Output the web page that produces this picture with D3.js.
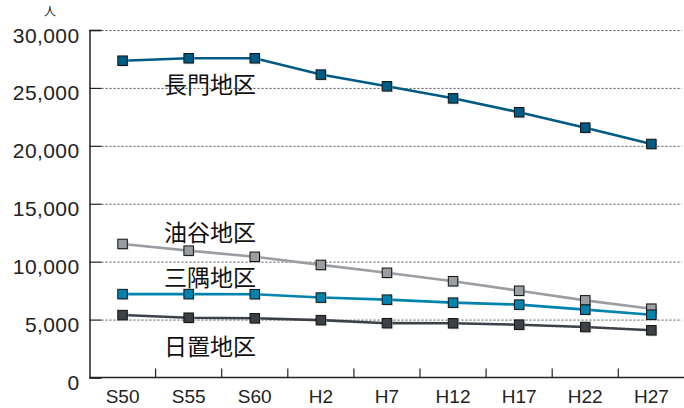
<!DOCTYPE html>
<html><head><meta charset="utf-8">
<script src="https://cdn.jsdelivr.net/npm/d3@7"></script>
<style>body{margin:0;background:#fff}svg{display:block}</style>
</head><body>
<svg id="c" width="684" height="408"></svg>
<script>
const categories = ["S50","S55","S60","H2","H7","H12","H17","H22","H27"];
const nagato = [27350,27560,27560,26150,25140,24100,22900,21570,20160];
const yuya   = [11530,10950,10420,9720,9040,8310,7490,6660,5940];
const misumi = [7200,7200,7190,6900,6720,6460,6290,5860,5420];
const heki   = [5390,5160,5110,4950,4690,4680,4560,4360,4075];
const yTicks = [0,5000,10000,15000,20000,25000,30000];
const seriesNames = ["長門地区","油谷地区","三隅地区","日置地区"];
const seriesColors = ["#005b85","#9a9da1","#0083ad","#3c4148"];
const unitLabel = "人";

const svg = d3.select("#c");
const font = "'Noto Sans CJK JP','Noto Sans',sans-serif";
const numFont = "'Liberation Sans',Arial,sans-serif";
const L = 89.5, R = 684, T = 30, B = 377.5;
const x = d3.scaleBand().domain(categories).range([L, L + 66.1*9]).paddingInner(0).paddingOuter(0);
const y = d3.scaleLinear().domain([0,30000]).range([B, T]);

// gridlines
svg.append("g").selectAll("line").data(yTicks.filter(d=>d>0)).join("line")
  .attr("x1", L+12).attr("x2", R-2).attr("y1", d=>y(d)+0.5).attr("y2", d=>y(d)+0.5)
  .attr("stroke","#555").attr("stroke-width",1).attr("stroke-dasharray","2,2");

// y axis
const yAxis = d3.axisLeft(y).tickValues(yTicks).tickSize(-12).tickPadding(9)
  .tickFormat(d3.format(","));
const gy = svg.append("g").attr("transform",`translate(${L},0)`).call(yAxis);
gy.select(".domain").attr("stroke","#222").attr("stroke-width",1.5);
gy.selectAll(".tick line").attr("stroke","#222").attr("stroke-width",1.2);
gy.selectAll(".tick text").attr("font-family",numFont).attr("font-size",21).attr("fill","#222")
  .attr("x",-10).attr("dy",null).attr("y",12).attr("letter-spacing",0.4);

// x axis
const gx = svg.append("g").attr("transform",`translate(0,${B})`);
gx.append("line").attr("x1",L).attr("x2",R).attr("y1",0).attr("y2",0).attr("stroke","#222").attr("stroke-width",1.5);
gx.selectAll("line.t").data(categories.slice(1)).join("line").attr("class","t")
  .attr("x1",d=>x(d)).attr("x2",d=>x(d)).attr("y1",0).attr("y2",-9)
  .attr("stroke","#222").attr("stroke-width",1.2);
gx.selectAll("text").data(categories).join("text")
  .attr("x",d=>x(d)+x.bandwidth()/2).attr("y",25).attr("text-anchor","middle")
  .attr("font-family",numFont).attr("font-size",19).attr("fill","#222").text(d=>d);

// unit
svg.append("text").attr("x",50).attr("y",16).attr("text-anchor","middle")
  .attr("font-family",font).attr("font-size",12).attr("fill","#222").text(unitLabel);

// series
const allSeries = [nagato, yuya, misumi, heki];
const cx = (d,i)=>x(categories[i])+x.bandwidth()/2;
const line = d3.line().x(cx).y(d=>y(d));
[1,2,3,0].forEach(k=>{
  const vals = allSeries[k], col = seriesColors[k];
  const g = svg.append("g");
  g.append("path").datum(vals).attr("d",line).attr("fill","none")
    .attr("stroke",col).attr("stroke-width",2.6);
  g.selectAll("rect.s").data(vals).join("rect").attr("class","s")
    .attr("x",(d,i)=>cx(d,i)-4.5+1).attr("y",d=>y(d)-4.5+1).attr("width",9.5).attr("height",9.5)
    .attr("fill","#bbb").attr("opacity",0.6);
  g.selectAll("rect.m").data(vals).join("rect").attr("class","m")
    .attr("x",(d,i)=>cx(d,i)-4.75).attr("y",d=>y(d)-4.75).attr("width",9.5).attr("height",9.5)
    .attr("fill",col).attr("stroke","#111").attr("stroke-width",1);
});

// series labels
const labelPos = [[164,93],[164,241],[164,286],[164,355]];
svg.append("g").selectAll("text").data(seriesNames).join("text")
  .attr("x",(d,i)=>labelPos[i][0]).attr("y",(d,i)=>labelPos[i][1])
  .attr("font-family",font).attr("font-weight",400).attr("font-size",23).attr("fill","#111").text(d=>d);
</script>
</body></html>
